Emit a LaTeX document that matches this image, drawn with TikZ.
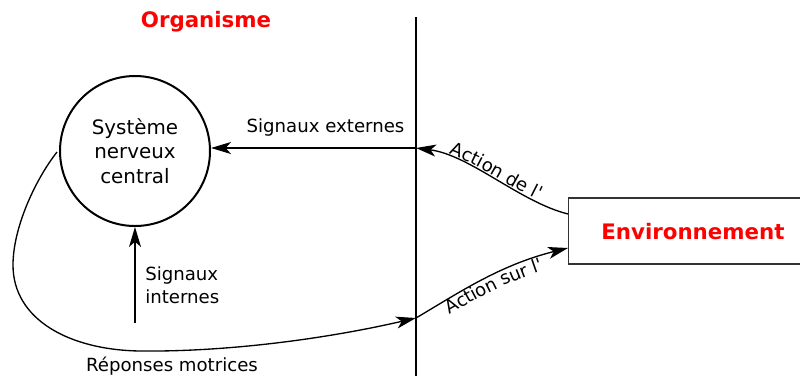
\documentclass[tikz,border=0pt]{standalone}
\usepackage{fontspec}
\setmainfont{DejaVu Sans}[Ligatures=TeXOff]
\usetikzlibrary{arrows.meta,decorations.text}
\begin{document}
\begin{tikzpicture}[x=0.75pt,y=-0.75pt,
  lbl/.style={font=\fontsize{13.6}{17.25}\selectfont, inner sep=0pt},
  ttl/.style={font=\fontsize{16}{19}\selectfont\bfseries, text=red, inner sep=0pt},
  arr/.style={line width=1pt, -{Stealth[length=15pt,width=9pt,inset=4pt]}},
  plain/.style={line width=1pt}]
\useasboundingbox (0,0) rectangle (800,376);
% separator line
\coordinate (ltop) at (416,17);
\coordinate (lbot) at (416,376);
\draw[plain] (ltop) -- (lbot);
% nodes
\node[circle, draw, line width=1.5pt, minimum size=150*0.75pt, inner sep=0pt, align=center,
      font=\fontsize{14.9}{18.4}\selectfont] (snc) at (135,151) {Système\\nerveux\\central};
\node[draw, line width=0.9pt, draw=black!80, minimum width=234*0.75pt, minimum height=66*0.75pt,
      anchor=west, ttl, text depth=0pt] (env) at (568,231) {\hspace*{11pt}Environnement};
\node[ttl] (org) at (206,22) {Organisme};
% coordinates
\coordinate (se) at (416,148);
\coordinate (sr) at (416,318);
\coordinate (si) at (135,323);
\coordinate (ea) at (568,214);
\coordinate (eb) at (568,248);
% connectors
\draw[arr] (se) -- (snc.east |- se) node[lbl, midway, above=8pt, xshift=12*0.75pt] (lse) {Signaux externes};
\draw[arr] (si) -- (snc.south);
\node[lbl, anchor=west, align=left] (lsi) at (145,285) {Signaux\\internes};
\draw[arr] (57,152) .. controls (35,180) and (13,228) .. (13,265)
   .. controls (13,320) and (70,350) .. (140,351)
   .. controls (230,352) and (330,338) .. (sr);
\node[lbl] (lrm) at (172,366) {Réponses motrices};
\draw[arr] (ea) .. controls (520,202) and (470,155) .. (se);
\path[decorate, decoration={text along path, text align=center, raise=2pt,
   text={|\fontsize{13.6}{16}\selectfont|Action de l'}}]
   (se) .. controls (470,155) and (520,202) .. (ea);
\draw[arr] (sr) .. controls (460,292) and (500,265) .. (eb);
\path[decorate, decoration={text along path, text align=center, raise=-11pt,
   text={|\fontsize{13.6}{16}\selectfont|Action sur l'}}]
   (sr) .. controls (460,292) and (500,265) .. (eb);
\end{tikzpicture}
\end{document}
